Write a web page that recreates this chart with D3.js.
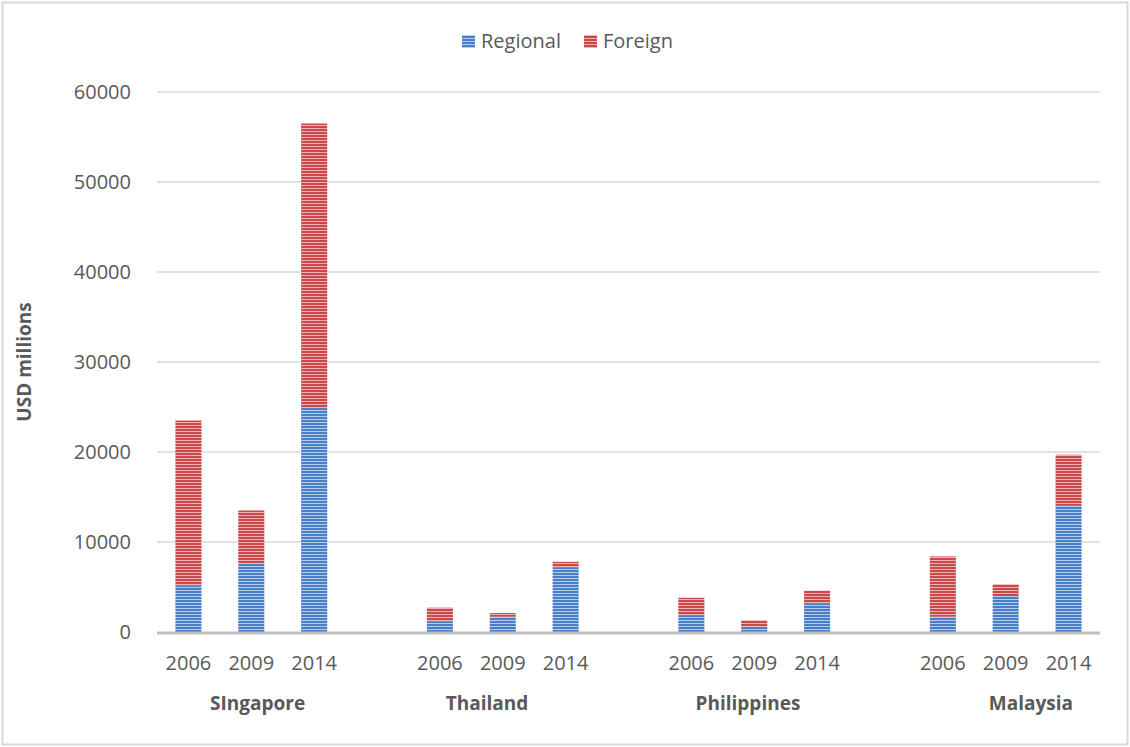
<!DOCTYPE html>
<html>
<head>
<meta charset="utf-8">
<script src="https://cdn.jsdelivr.net/npm/d3@7"></script>
<style>
  body { margin: 0; background: #fff; }
  text { font-family: "Open Sans", sans-serif; fill: #595959; }
</style>
</head>
<body>
<svg id="chart" width="1130" height="747"></svg>
<script>
// data
var countries = ["SIngapore", "Thailand", "Philippines", "Malaysia"];
var years = ["2006", "2009", "2014"];
var regional = [
  [5200, 7600, 24900],
  [1200, 1700, 7200],
  [1800, 600, 3200],
  [1700, 4000, 14100]
];
var foreign = [
  [18300, 5900, 31600],
  [1500, 400, 600],
  [2000, 700, 1400],
  [6700, 1300, 5600]
];
var yTicks = [0, 10000, 20000, 30000, 40000, 50000, 60000];

var svg = d3.select("#chart");

// frame
svg.append("rect")
  .attr("x", 2.5).attr("y", 2.5)
  .attr("width", 1125).attr("height", 742)
  .attr("fill", "none").attr("stroke", "#d9d9d9").attr("stroke-width", 2);

// stripe patterns
var defs = svg.append("defs");
function stripes(id, dark, light) {
  var p = defs.append("pattern")
    .attr("id", id)
    .attr("patternUnits", "userSpaceOnUse")
    .attr("width", 6).attr("height", 3);
  p.append("rect").attr("width", 6).attr("height", 3).attr("fill", dark);
  p.append("rect").attr("y", 2).attr("width", 6).attr("height", 1).attr("fill", light);
}
stripes("pReg", "#4a7ec6", "#b3cdee");
stripes("pFor", "#c9494a", "#efb0b0");

var plotLeft = 157, plotRight = 1100, plotTop = 92, plotBottom = 632;

// slots: 3 years per country, blank slot between countries
var slots = [];
countries.forEach(function(c, i) {
  years.forEach(function(y, j) {
    slots.push({ key: c + "-" + y, country: c, year: y, reg: regional[i][j], fore: foreign[i][j] });
  });
  if (i < countries.length - 1) slots.push({ key: "gap" + i, blank: true });
});

var x = d3.scaleBand()
  .domain(slots.map(function(d) { return d.key; }))
  .range([plotLeft, plotRight])
  .paddingInner(0.5857)
  .paddingOuter(0.2929);

// continuous slot scale for placing group labels (Excel puts them off-centre)
var slotX = d3.scaleLinear().domain([0, slots.length]).range([plotLeft, plotRight]);
var labelSlot = [1.6, 5.25, 9.4, 13.9];

var y = d3.scaleLinear().domain([0, 60000]).range([plotBottom, plotTop]);

// gridlines
svg.append("g")
  .selectAll("line")
  .data(yTicks.slice(1))
  .enter()
  .append("line")
  .attr("x1", plotLeft).attr("x2", plotRight)
  .attr("y1", function(d) { return y(d); })
  .attr("y2", function(d) { return y(d); })
  .attr("stroke", "#d9d9d9").attr("stroke-width", 1.5);

// y tick labels
svg.append("g")
  .selectAll("text")
  .data(yTicks)
  .enter()
  .append("text")
  .attr("x", 131)
  .attr("y", function(d) { return y(d); })
  .attr("dy", "0.35em")
  .attr("text-anchor", "end")
  .style("font-size", "20px")
  .text(function(d) { return d; });

// axis title
svg.append("text")
  .attr("transform", "translate(31," + (plotBottom + plotTop) / 2 + ") rotate(-90)")
  .attr("text-anchor", "middle")
  .style("font-size", "19px")
  .style("font-weight", "bold")
  .text("USD millions");

var bars = slots.filter(function(d) { return !d.blank; });

var g = svg.append("g");
g.selectAll(".reg")
  .data(bars)
  .enter()
  .append("rect")
  .attr("class", "reg")
  .attr("x", function(d) { return x(d.key); })
  .attr("width", x.bandwidth())
  .attr("y", function(d) { return y(d.reg); })
  .attr("height", function(d) { return plotBottom - y(d.reg); })
  .attr("fill", "url(#pReg)");

g.selectAll(".fore")
  .data(bars)
  .enter()
  .append("rect")
  .attr("class", "fore")
  .attr("x", function(d) { return x(d.key); })
  .attr("width", x.bandwidth())
  .attr("y", function(d) { return y(d.reg + d.fore); })
  .attr("height", function(d) { return y(d.reg) - y(d.reg + d.fore); })
  .attr("fill", "url(#pFor)");

// baseline
svg.append("line")
  .attr("x1", plotLeft).attr("x2", plotRight)
  .attr("y1", plotBottom + 1).attr("y2", plotBottom + 1)
  .attr("stroke", "#bfbfbf").attr("stroke-width", 3);

// year labels
svg.append("g")
  .selectAll("text")
  .data(bars)
  .enter()
  .append("text")
  .attr("x", function(d) { return x(d.key) + x.bandwidth() / 2; })
  .attr("y", 670)
  .attr("text-anchor", "middle")
  .style("font-size", "20px")
  .text(function(d) { return d.year; });

// country labels
svg.append("g")
  .selectAll("text")
  .data(countries)
  .enter()
  .append("text")
  .attr("x", function(c, i) { return slotX(labelSlot[i]); })
  .attr("y", 710)
  .attr("text-anchor", "middle")
  .style("font-size", "19px")
  .style("font-weight", "bold")
  .text(function(c) { return c; });

// legend
var legend = [
  { name: "Regional", fill: "url(#pReg)", x: 462 },
  { name: "Foreign", fill: "url(#pFor)", x: 584 }
];
var lg = svg.append("g").selectAll("g").data(legend).enter().append("g");
lg.append("rect")
  .attr("x", function(d) { return d.x; })
  .attr("y", 35)
  .attr("width", 13).attr("height", 13)
  .attr("fill", function(d) { return d.fill; });
lg.append("text")
  .attr("x", function(d) { return d.x + 19; })
  .attr("y", 41)
  .attr("dy", "0.35em")
  .style("font-size", "20px")
  .text(function(d) { return d.name; });
</script>
</body>
</html>
